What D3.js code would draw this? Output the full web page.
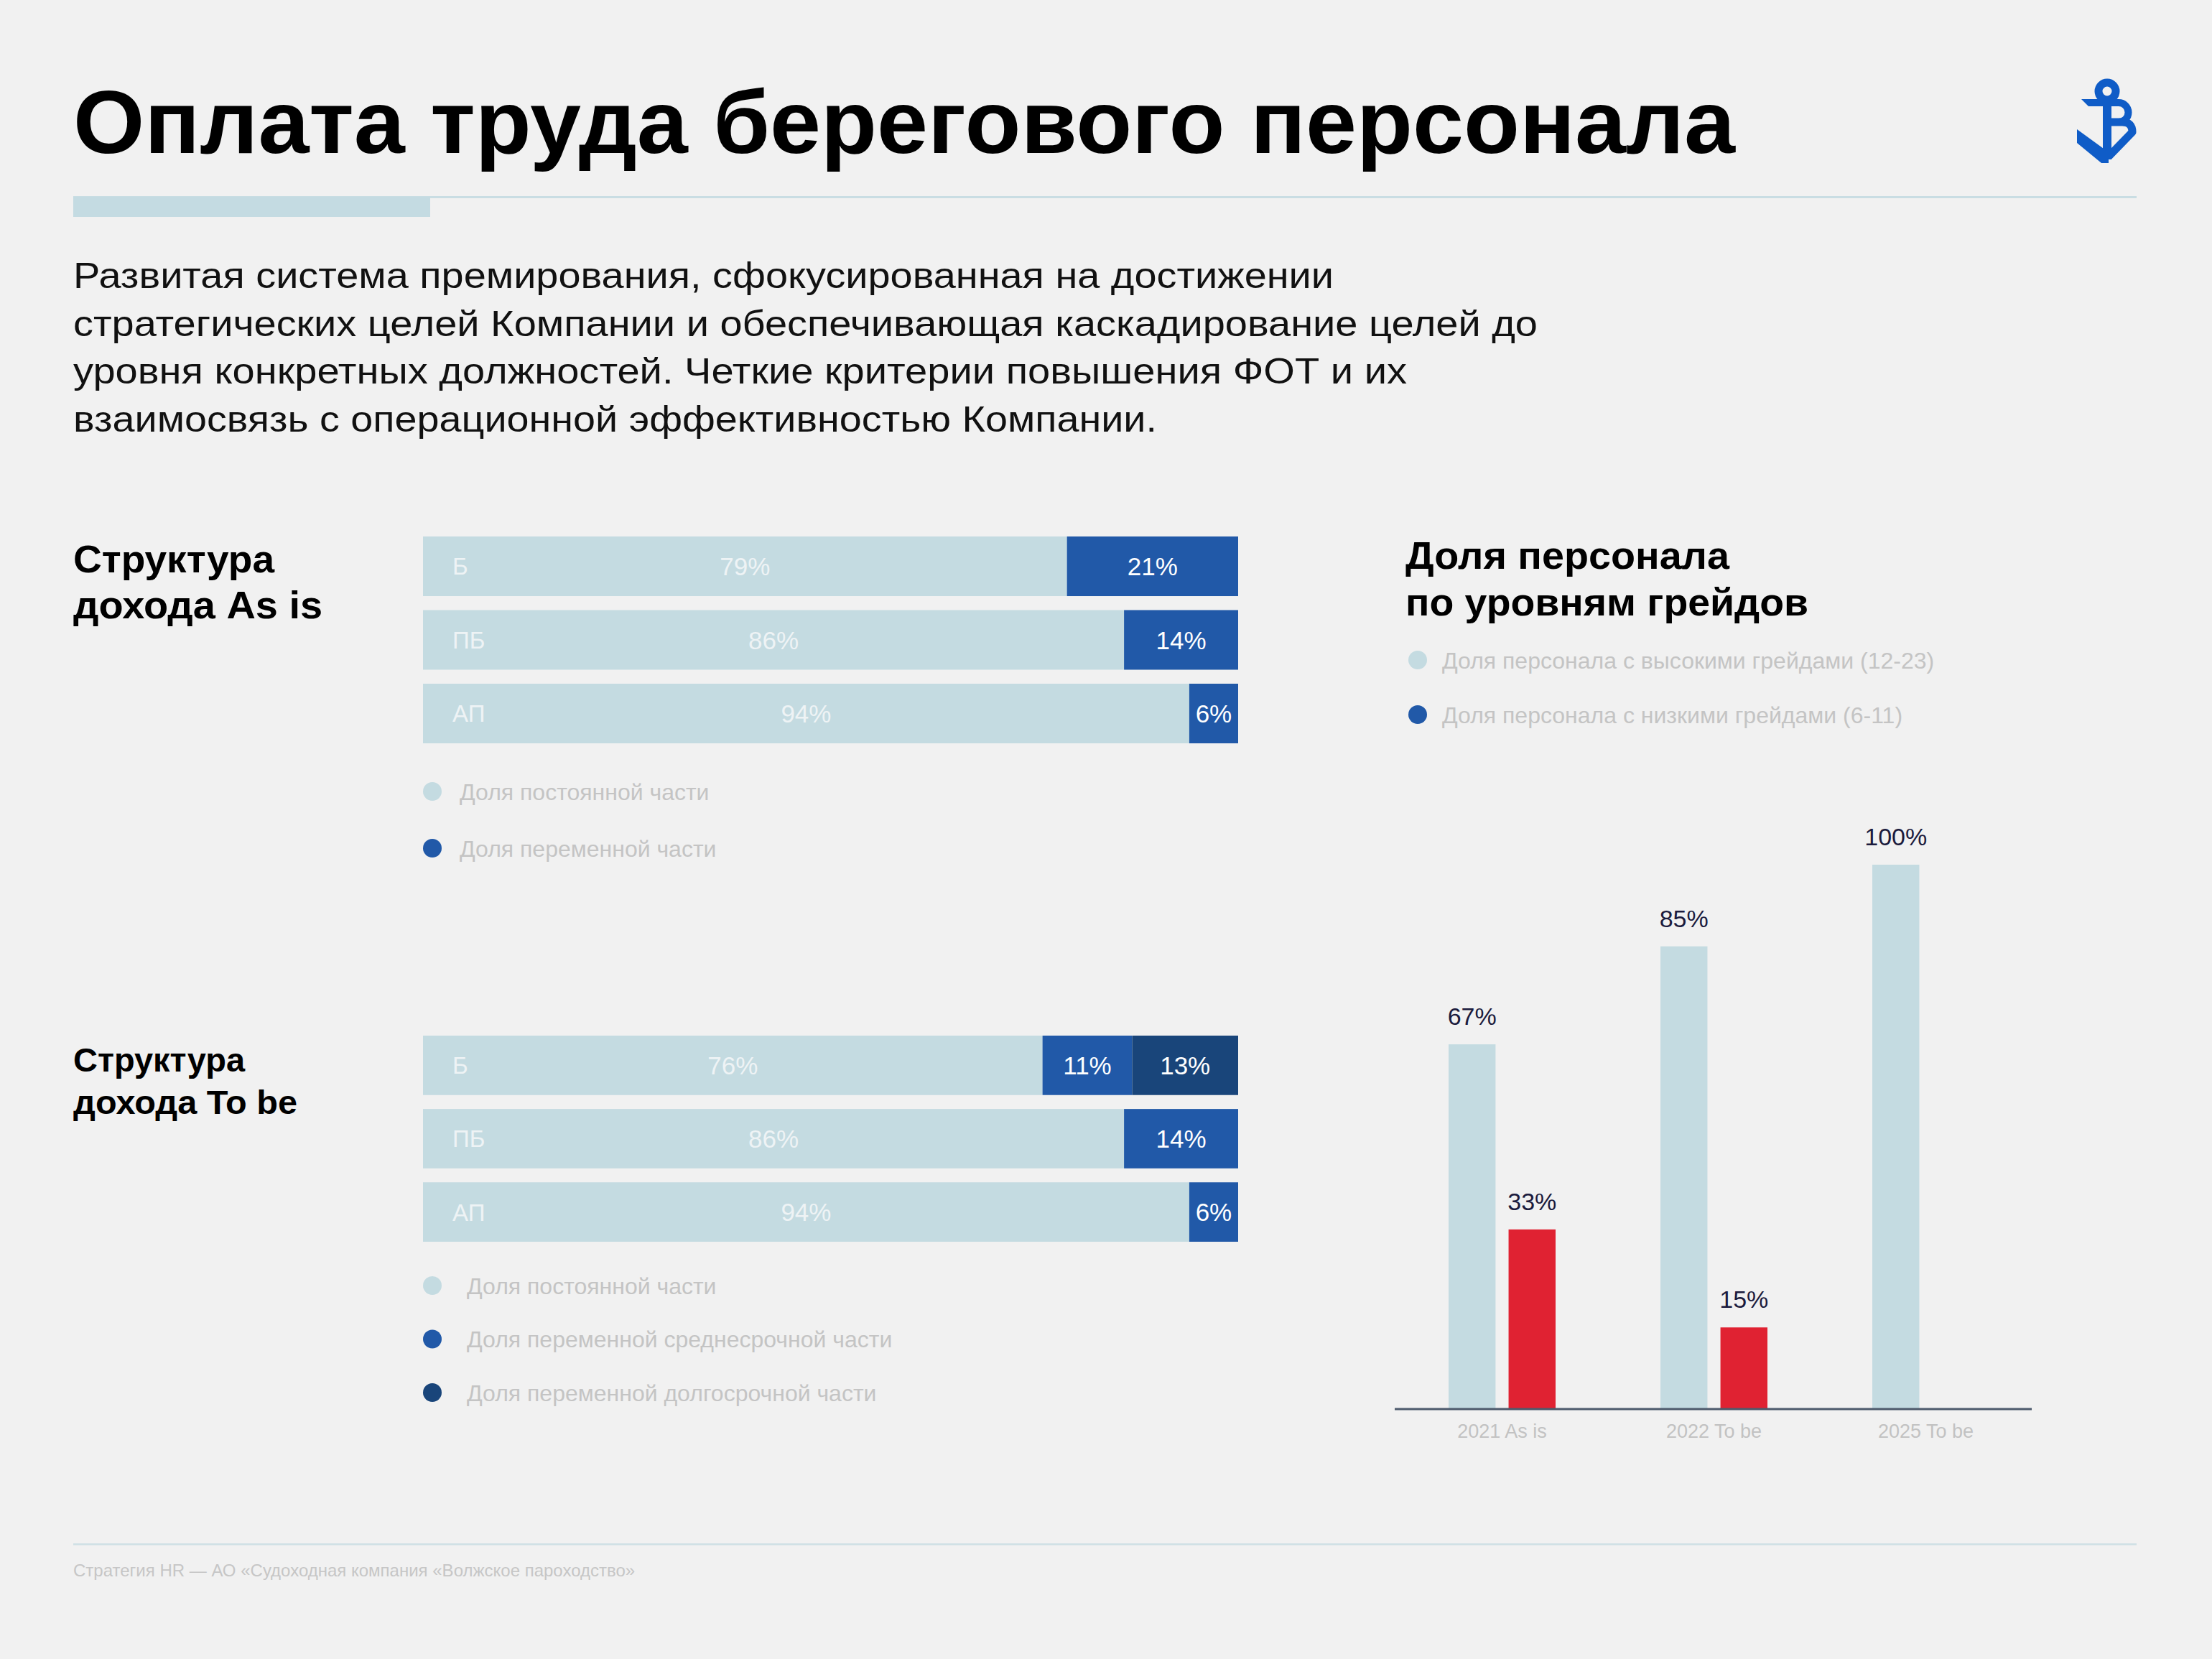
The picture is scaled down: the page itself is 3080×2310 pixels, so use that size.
<!DOCTYPE html>
<html>
<head>
<meta charset="utf-8">
<script src="https://cdn.jsdelivr.net/npm/d3@7"></script>
<style>
  body { margin: 0; background: #f1f1f1; }
  text { font-family: "Liberation Sans", Arial, sans-serif; }
</style>
</head>
<body>
<script>
// ---- data ----
var rows = ["Б", "ПБ", "АП"];
var asIsFixed = [79, 86, 94];
var asIsVar = [21, 14, 6];
var toBeFixed = [76, 86, 94];
var toBeMid = [11, 14, 6];
var toBeLong = [13, 0, 0];

var gradeYears = ["2021 As is", "2022 To be", "2025 To be"];
var highGrades = [67, 85, 100];
var lowGrades = [33, 15, null];

var asIsLegend = ["Доля постоянной части", "Доля переменной части"];
var toBeLegend = ["Доля постоянной части", "Доля переменной среднесрочной части", "Доля переменной долгосрочной части"];
var gradeLegend = ["Доля персонала с высокими грейдами (12-23)", "Доля персонала с низкими грейдами (6-11)"];

var intro = [
  "Развитая система премирования, сфокусированная на достижении",
  "стратегических целей Компании и обеспечивающая каскадирование целей до",
  "уровня конкретных должностей. Четкие критерии повышения ФОТ и их",
  "взаимосвязь с операционной эффективностью Компании."
];

var light = "#c4dbe1", mid = "#2159a8", dark = "#19457a", red = "#e02232";
var legendGrey = "#c4c4c4";

var width = 3080, height = 2310;

var svg = d3.select("body").append("svg")
  .attr("width", width)
  .attr("height", height);

svg.append("rect").attr("width", width).attr("height", height).attr("fill", "#f1f1f1");

// ---- header ----
svg.append("text")
  .attr("x", 102).attr("y", 213)
  .attr("font-size", 124).attr("font-weight", "bold").attr("fill", "#000")
  .attr("textLength", 2314).attr("lengthAdjust", "spacingAndGlyphs")
  .text("Оплата труда берегового персонала");

svg.append("rect").attr("x", 102).attr("y", 273).attr("width", 2873).attr("height", 3).attr("fill", "#c9dde3");
svg.append("rect").attr("x", 102).attr("y", 274).attr("width", 497).attr("height", 28).attr("fill", "#c4dbe2");

// logo
var logo = svg.append("g").attr("fill", "none").attr("stroke", "#0f5cc7");
logo.append("circle").attr("cx", 2934).attr("cy", 127).attr("r", 12).attr("stroke-width", 11);
logo.append("line").attr("x1", 2934).attr("x2", 2934).attr("y1", 136).attr("y2", 222).attr("stroke-width", 12);
logo.append("path").attr("stroke-width", 10)
  .attr("d", "M2934,143 H2950 A13.5,13.5 0 0 1 2950,170 H2934");
logo.append("path").attr("stroke-width", 11).attr("stroke-linejoin", "round")
  .attr("d", "M2934,170 H2955 Q2969,170 2969,184 L2936,218");
svg.append("path").attr("fill", "#0f5cc7")
  .attr("d", "M2898,138 L2934,138 L2934,148 L2908,148 Z");
svg.append("path").attr("fill", "#0f5cc7")
  .attr("d", "M2892,180 L2936,212 L2936,227 L2926,227 L2892,199 Z");

svg.selectAll(".intro")
  .data(intro)
  .enter().append("text")
  .attr("class", "intro")
  .attr("x", 102)
  .attr("y", function(d, i) { return 401 + i * 66.5; })
  .attr("font-size", 50).attr("fill", "#111")
  .attr("textLength", function(d, i) { return [1755, 2039, 1857, 1509][i]; })
  .attr("lengthAdjust", "spacingAndGlyphs")
  .text(function(d) { return d; });

// ---- section titles ----
function title(lines, x, y0, step, size, lens) {
  svg.selectAll(null)
    .data(lines)
    .enter().append("text")
    .attr("x", x)
    .attr("y", function(d, i) { return y0 + i * step; })
    .attr("font-size", size).attr("font-weight", "bold").attr("fill", "#000")
    .attr("textLength", function(d, i) { return lens[i]; })
    .attr("lengthAdjust", "spacingAndGlyphs")
    .text(function(d) { return d; });
}
title(["Структура", "дохода As is"], 102, 797, 64, 54, [280, 347]);
title(["Структура", "дохода To be"], 102, 1492, 59, 47, [239, 312]);
title(["Доля персонала", "по уровням грейдов"], 1957, 792, 65, 54, [451, 561]);

// ---- horizontal stacked bars ----
var x = d3.scaleLinear().domain([0, 100]).range([589, 1724]);

function stackedBars(keys, colors, series, top, bottom) {
  var table = rows.map(function(r, i) {
    var o = { row: r };
    keys.forEach(function(k, j) { o[k] = series[j][i]; });
    return o;
  });
  var y = d3.scaleBand().domain(rows).range([top, bottom]).paddingInner(0.19);
  var stacked = d3.stack().keys(keys)(table);
  var g = svg.append("g");

  var layer = g.selectAll(".layer")
    .data(stacked)
    .enter().append("g")
    .attr("fill", function(d, i) { return colors[i]; });

  layer.selectAll("rect")
    .data(function(d) { return d.filter(function(s) { return s[1] > s[0]; }); })
    .enter().append("rect")
    .attr("x", function(d) { return x(d[0]); })
    .attr("y", function(d) { return y(d.data.row); })
    .attr("width", function(d) { return x(d[1]) - x(d[0]); })
    .attr("height", y.bandwidth());

  layer.selectAll("text")
    .data(function(d, i) {
      return d.filter(function(s) { return s[1] > s[0]; }).map(function(s) { s.layer = i; return s; });
    })
    .enter().append("text")
    .attr("x", function(d) { return (x(d[0]) + x(d[1])) / 2; })
    .attr("y", function(d) { return y(d.data.row) + y.bandwidth() / 2; })
    .attr("dy", "0.36em")
    .attr("text-anchor", "middle")
    .attr("font-size", 35)
    .attr("fill", function(d) { return d.layer === 0 ? "#eef3f5" : "#ffffff"; })
    .text(function(d) { return (d[1] - d[0]) + "%"; });

  g.selectAll(".rowlab")
    .data(rows)
    .enter().append("text")
    .attr("x", x(0) + 41)
    .attr("y", function(d) { return y(d) + y.bandwidth() / 2; })
    .attr("dy", "0.36em")
    .attr("font-size", 33)
    .attr("fill", "#eef3f5")
    .text(function(d) { return d; });
}

stackedBars(["fixed", "var"], [light, mid], [asIsFixed, asIsVar], 747, 1035);
stackedBars(["fixed", "mid", "long"], [light, mid, dark], [toBeFixed, toBeMid, toBeLong], 1442, 1729);

// ---- legends ----
function legend(labels, colors, cx, tx, y0, step) {
  var g = svg.append("g");
  var item = g.selectAll("g")
    .data(labels)
    .enter().append("g")
    .attr("transform", function(d, i) { return "translate(0," + (y0 + i * step) + ")"; });
  item.append("circle").attr("cx", cx).attr("r", 13)
    .attr("fill", function(d, i) { return colors[i]; });
  item.append("text").attr("x", tx).attr("dy", "0.36em")
    .attr("font-size", 32).attr("fill", legendGrey)
    .text(function(d) { return d; });
}
legend(asIsLegend, [light, mid], 602, 640, 1102, 79);
legend(toBeLegend, [light, mid, dark], 602, 650, 1790, 74.5);
legend(gradeLegend, [light, mid], 1974, 2008, 919, 76);

// ---- grade bar chart ----
var x0 = d3.scaleBand().domain(gradeYears).range([2017, 2756]).paddingInner(0.495);
var x1 = d3.scaleBand().domain(["high", "low"]).range([0, x0.bandwidth()]).paddingInner(0.217);
var yv = d3.scaleLinear().domain([0, 100]).range([1962, 1204]);

var gradeData = gradeYears.map(function(c, i) {
  return { year: c, values: [
    { key: "high", v: highGrades[i] },
    { key: "low", v: lowGrades[i] }
  ].filter(function(d) { return d.v != null; }) };
});

var groups = svg.selectAll(".grp")
  .data(gradeData)
  .enter().append("g")
  .attr("class", "grp")
  .attr("transform", function(d) { return "translate(" + x0(d.year) + ",0)"; });

groups.selectAll("rect")
  .data(function(d) { return d.values; })
  .enter().append("rect")
  .attr("x", function(d) { return x1(d.key); })
  .attr("y", function(d) { return yv(d.v); })
  .attr("width", x1.bandwidth())
  .attr("height", function(d) { return yv(0) - yv(d.v); })
  .attr("fill", function(d) { return d.key === "high" ? light : red; });

groups.selectAll("text")
  .data(function(d) { return d.values; })
  .enter().append("text")
  .attr("x", function(d) { return x1(d.key) + x1.bandwidth() / 2; })
  .attr("y", function(d) { return yv(d.v) - 27; })
  .attr("text-anchor", "middle")
  .attr("font-size", 34)
  .attr("fill", "#1b1b3d")
  .text(function(d) { return d.v + "%"; });

svg.append("line")
  .attr("x1", 1942).attr("x2", 2829)
  .attr("y1", yv(0)).attr("y2", yv(0))
  .attr("stroke", "#4d5a6c").attr("stroke-width", 3);

var xAxis = svg.append("g")
  .attr("transform", "translate(0," + yv(0) + ")")
  .call(d3.axisBottom(x0).tickSize(0).tickPadding(21));
xAxis.select(".domain").remove();
xAxis.selectAll("text")
  .attr("font-size", 27)
  .attr("fill", "#c2c2c2")
  .style("font-family", "'Liberation Sans', Arial, sans-serif");

// ---- footer ----
svg.append("rect").attr("x", 102).attr("y", 2149).attr("width", 2873).attr("height", 2.5).attr("fill", "#cfe0e5");
svg.append("text")
  .attr("x", 102).attr("y", 2195)
  .attr("font-size", 24).attr("fill", "#c6c6c6")
  .text("Стратегия HR — АО «Судоходная компания «Волжское пароходство»");
</script>
</body>
</html>
